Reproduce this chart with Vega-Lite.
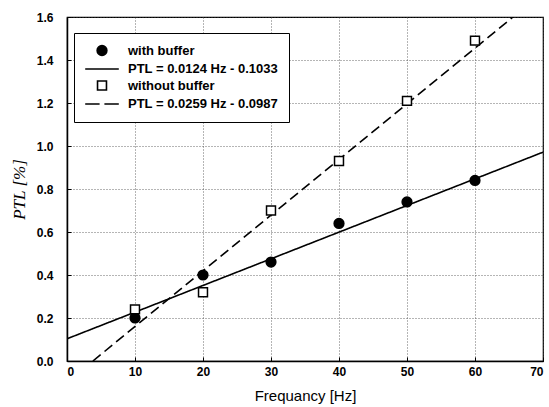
{
  "$schema": "https://vega.github.io/schema/vega-lite/v6.json",
  "width": 476,
  "height": 344,
  "autosize": {"type": "none"},
  "padding": {"left": 67, "top": 17, "right": 6, "bottom": 46},
  "background": "white",
  "config": {
    "view": {"stroke": "black", "strokeWidth": 1.2},
    "font": "Liberation Sans",
    "axis": {
      "domainColor": "black",
      "domainWidth": 1.5,
      "tickColor": "black",
      "tickSize": -4,
      "labelFont": "Liberation Sans",
      "labelFontWeight": "bold",
      "labelFontSize": 12,
      "labelColor": "black",
      "gridColor": "#444",
      "gridDash": [1, 2],
      "gridWidth": 0.8,
      "titleColor": "black"
    }
  },
  "datasets": {
    "pts": [
      {"f": 10, "p": 0.20, "label": "with buffer"},
      {"f": 20, "p": 0.40, "label": "with buffer"},
      {"f": 30, "p": 0.46, "label": "with buffer"},
      {"f": 40, "p": 0.64, "label": "with buffer"},
      {"f": 50, "p": 0.74, "label": "with buffer"},
      {"f": 60, "p": 0.84, "label": "with buffer"},
      {"f": 10, "p": 0.24, "label": "without buffer"},
      {"f": 20, "p": 0.32, "label": "without buffer"},
      {"f": 30, "p": 0.70, "label": "without buffer"},
      {"f": 40, "p": 0.93, "label": "without buffer"},
      {"f": 50, "p": 1.21, "label": "without buffer"},
      {"f": 60, "p": 1.49, "label": "without buffer"}
    ],
    "fits": [
      {"f": 0, "p": 0.1033, "fit": "with"},
      {"f": 70, "p": 0.9713, "fit": "with"},
      {"f": 3.81, "p": 0.0, "fit": "without"},
      {"f": 65.59, "p": 1.6, "fit": "without"}
    ]
  },
  "layer": [
    {
      "data": {"name": "fits"},
      "mark": {"type": "line", "color": "black", "strokeWidth": 1.6, "clip": true},
      "encoding": {
        "x": {
          "field": "f", "type": "quantitative",
          "scale": {"domain": [0, 70], "nice": false},
          "axis": {"values": [0, 10, 20, 30, 40, 50, 60, 70], "title": "Frequancy [Hz]", "titleFontSize": 15, "titleFontWeight": "normal", "titlePadding": 11, "labelPadding": 9, "grid": true}
        },
        "y": {
          "field": "p", "type": "quantitative",
          "scale": {"domain": [0, 1.6], "nice": false},
          "axis": {"values": [0, 0.2, 0.4, 0.6, 0.8, 1.0, 1.2, 1.4, 1.6], "format": ".1f", "title": "PTL [%]", "titleFont": "Liberation Serif", "titleFontStyle": "italic", "titleFontWeight": "normal", "titleFontSize": 17, "titlePadding": 8, "labelPadding": 18, "grid": true}
        },
        "detail": {"field": "fit"},
        "strokeDash": {
          "field": "fit", "type": "nominal",
          "scale": {"domain": ["with", "without"], "range": [[1, 0], [10, 5]]},
          "legend": null
        }
      }
    },
    {
      "data": {"name": "pts"},
      "mark": {"type": "point", "filled": true, "stroke": "black", "strokeWidth": 1.5, "opacity": 1},
      "encoding": {
        "x": {"field": "f", "type": "quantitative"},
        "y": {"field": "p", "type": "quantitative"},
        "shape": {
          "field": "label", "type": "nominal",
          "scale": {
            "domain": ["with buffer", "PTL = 0.0124 Hz - 0.1033", "without buffer", "PTL = 0.0259 Hz - 0.0987"],
            "range": ["circle", "M-2.1,0H2.1", "square", "M-2.1,0H-0.3M0.3,0H2.1"]
          },
          "legend": {
            "title": null,
            "orient": "none",
            "legendX": 7,
            "legendY": 16,
            "fillColor": "white",
            "strokeColor": "black",
            "padding": 11,
            "labelFont": "Liberation Sans",
            "labelFontWeight": "bold",
            "labelFontSize": 13,
            "labelColor": "black",
            "symbolStrokeColor": "black",
            "symbolStrokeWidth": 1.6,
            "symbolOpacity": 1,
            "symbolOffset": 8,
            "rowPadding": 1,
            "labelOffset": 17
          }
        },
        "fill": {
          "field": "label", "type": "nominal",
          "scale": {
            "domain": ["with buffer", "PTL = 0.0124 Hz - 0.1033", "without buffer", "PTL = 0.0259 Hz - 0.0987"],
            "range": ["black", "transparent", "white", "transparent"]
          }
        },
        "size": {
          "field": "label", "type": "nominal",
          "scale": {
            "type": "ordinal",
            "domain": ["with buffer", "PTL = 0.0124 Hz - 0.1033", "without buffer", "PTL = 0.0259 Hz - 0.0987"],
            "range": [95, 256, 80, 256]
          }
        }
      }
    }
  ]
}
